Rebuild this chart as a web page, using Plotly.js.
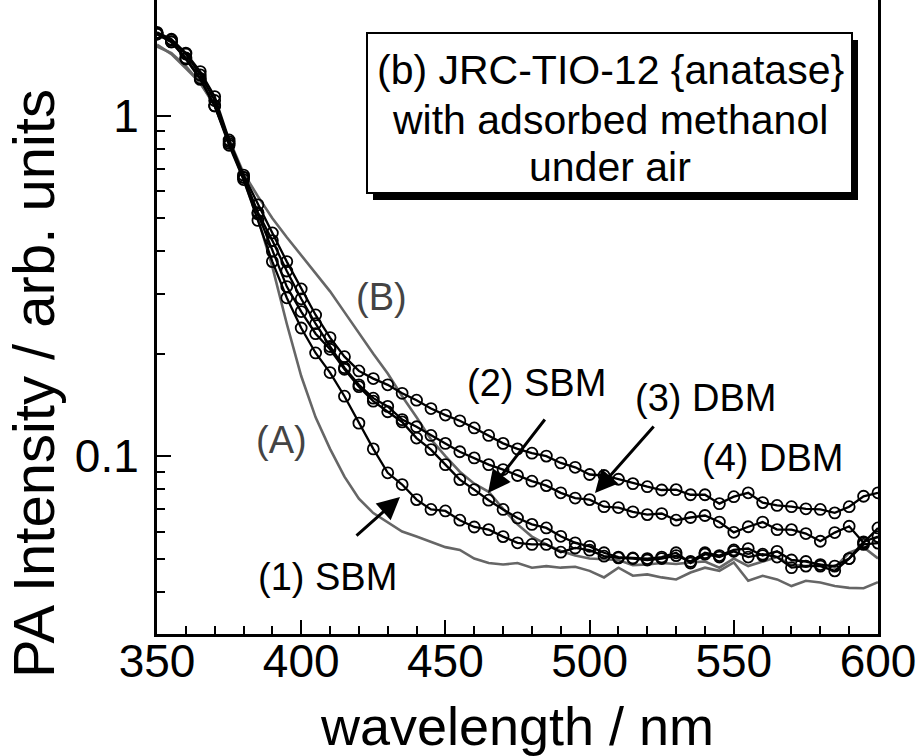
<!DOCTYPE html>
<html><head><meta charset="utf-8">
<script src="https://cdn.plot.ly/plotly-3.0.1.min.js"></script>
<style>html,body{margin:0;padding:0;background:#fff}</style>
</head><body><div id="chart" style="width:920px;height:756px"></div>
<script>
const wavelength = [350,355,360,365,370,375,380,385,390,395,400,405,410,415,420,425,430,435,440,445,450,455,460,465,470,475,480,485,490,495,500,505,510,515,520,525,530,535,540,545,550,555,560,565,570,575,580,585,590,595,600];

const sbm1 = [1.74,1.65,1.47,1.28,1.07,0.82,0.65,0.493,0.373,0.292,0.238,0.201,0.176,0.15,0.125,0.105,0.0893,0.0825,0.0745,0.0697,0.069,0.0648,0.0619,0.0608,0.058,0.0556,0.055,0.055,0.0522,0.0537,0.0529,0.0508,0.0502,0.05,0.0495,0.05,0.051,0.049,0.052,0.051,0.053,0.0535,0.051,0.0525,0.0495,0.049,0.048,0.0475,0.05,0.056,0.058];

const sbm2 = [1.74,1.65,1.48,1.29,1.07,0.83,0.66,0.515,0.40,0.315,0.266,0.229,0.206,0.18,0.16,0.145,0.135,0.126,0.113,0.1045,0.0944,0.0853,0.0797,0.0742,0.0697,0.0658,0.063,0.0615,0.0581,0.0556,0.0543,0.052,0.0505,0.0502,0.05,0.0505,0.052,0.0485,0.0515,0.0505,0.0525,0.0505,0.0515,0.0505,0.047,0.0475,0.0475,0.046,0.05,0.055,0.0555];

const dbm3 = [1.75,1.67,1.52,1.32,1.11,0.84,0.66,0.52,0.43,0.35,0.29,0.245,0.21,0.182,0.162,0.148,0.14,0.128,0.122,0.115,0.109,0.103,0.0988,0.0944,0.0913,0.0877,0.0844,0.0819,0.078,0.0753,0.0745,0.071,0.0706,0.0686,0.0673,0.0678,0.0648,0.066,0.0669,0.064,0.0597,0.062,0.064,0.0608,0.0608,0.0592,0.0562,0.0596,0.0622,0.0556,0.0615];

const dbm4 = [1.76,1.68,1.53,1.35,1.14,0.85,0.67,0.548,0.453,0.373,0.31,0.26,0.223,0.196,0.178,0.169,0.162,0.153,0.146,0.138,0.132,0.127,0.121,0.115,0.109,0.105,0.102,0.1,0.0955,0.0927,0.0883,0.0877,0.0855,0.083,0.0813,0.0795,0.0797,0.077,0.077,0.0725,0.076,0.078,0.073,0.0716,0.071,0.07,0.0697,0.0681,0.071,0.0762,0.078];

const curveA = [1.62,1.52,1.38,1.25,1.08,0.84,0.65,0.5,0.36,0.245,0.172,0.13,0.105,0.087,0.075,0.068,0.064,0.06,0.058,0.056,0.054,0.053,0.05,0.0485,0.048,0.0485,0.047,0.0475,0.047,0.0473,0.046,0.044,0.047,0.0445,0.0449,0.044,0.0434,0.0455,0.047,0.046,0.0487,0.043,0.0445,0.0434,0.0415,0.043,0.0425,0.0415,0.041,0.0409,0.0426];

const curveB = [1.6,1.53,1.4,1.25,1.07,0.85,0.68,0.58,0.5,0.44,0.39,0.345,0.305,0.265,0.23,0.2,0.175,0.15,0.13,0.112,0.1,0.09,0.083,0.0785,0.07,0.063,0.058,0.055,0.0526,0.051,0.05,0.0497,0.0495,0.0478,0.048,0.0485,0.0482,0.0487,0.049,0.047,0.05,0.0475,0.049,0.0505,0.048,0.0475,0.048,0.047,0.052,0.054,0.05];

const xTickVals = [350,400,450,500,550,600];
const yTickVals = [0.1, 1];
const yTickText = ['0.1', '1'];
const yMinorVals = [0.04,0.05,0.06,0.07,0.08,0.09,0.2,0.3,0.4,0.5,0.6,0.7,0.8,0.9];

const FONT = "'Liberation Sans', Arial, Helvetica, sans-serif";
const L = 157, R = 878, T = 0, B = 634;
const px = x => (x - L) / (R - L);
const py = y => (B - y) / (B - T);

const markerLine = (y, name) => ({
  x: wavelength, y: y, name: name, type: 'scatter', mode: 'lines+markers',
  line: {color: '#000', width: 2.3},
  marker: {symbol: 'circle-open', size: 11, color: '#000', line: {width: 1.8, color: '#000'}}
});

const traces = [
  {x: wavelength, y: curveA, name: '(A)', type: 'scatter', mode: 'lines', line: {color: '#666', width: 2.6}},
  {x: wavelength, y: curveB, name: '(B)', type: 'scatter', mode: 'lines', line: {color: '#666', width: 2.6}},
  markerLine(sbm1, '(1) SBM'),
  markerLine(sbm2, '(2) SBM'),
  markerLine(dbm3, '(3) DBM'),
  markerLine(dbm4, '(4) DBM')
];

const txt = (text, x, y, size, color) => ({
  text: text, xref: 'paper', yref: 'paper', x: px(x), y: py(y),
  xanchor: 'center', yanchor: 'middle', showarrow: false,
  font: {family: FONT, size: size, color: color || '#000'}
});
const arrow = (tx, ty, sx, sy) => ({
  text: '', xref: 'paper', yref: 'paper', x: px(tx), y: py(ty),
  ax: sx - tx, ay: sy - ty, showarrow: true, arrowhead: 2, arrowsize: 1.5,
  arrowwidth: 3, arrowcolor: '#000', standoff: 0, startstandoff: 0
});

const annotations = [
  txt('(A)', 281, 440, 38, '#444'),
  txt('(B)', 381, 297, 38, '#444'),
  txt('(1) SBM', 327, 577, 38),
  txt('(2) SBM', 536, 383, 38),
  txt('(3) DBM', 705, 398, 38),
  txt('(4) DBM', 772, 458, 38),
  arrow(400, 497, 355, 537),
  arrow(488, 493, 546, 418),
  arrow(595, 493, 655, 425),
  txt('(b) JRC-TIO-12 {anatase}', 610, 70, 41),
  txt('with adsorbed methanol', 610, 120, 41),
  txt('under air', 610, 167, 41),
  Object.assign(txt('PA Intensity / arb. units', 33, 384, 58), {textangle: -90})
];

const shapes = [
  {type: 'rect', xref: 'paper', yref: 'paper', x0: px(373), x1: px(858), y0: py(40), y1: py(200), fillcolor: '#000', line: {width: 0}, layer: 'above'},
  {type: 'rect', xref: 'paper', yref: 'paper', x0: px(367), x1: px(852), y0: py(33), y1: py(193), fillcolor: '#fff', line: {width: 2, color: '#000'}, layer: 'above'}
];

const layout = {
  width: 920, height: 756,
  margin: {l: L, r: 920 - R, t: T, b: 756 - B},
  paper_bgcolor: '#fff', plot_bgcolor: '#fff',
  showlegend: false,
  font: {family: FONT, color: '#000'},
  xaxis: {
    range: [350, 600], tickmode: 'array', tickvals: xTickVals,
    ticks: 'inside', ticklen: 14, tickwidth: 2, tickcolor: '#000',
    minor: {ticks: 'inside', ticklen: 8, tickwidth: 2, tickcolor: '#000', dtick: 10, tick0: 350},
    showline: true, linewidth: 3, linecolor: '#000', mirror: false,
    showgrid: false, zeroline: false,
    tickfont: {family: FONT, size: 46, color: '#000'},
    ticklabelstandoff: -15,
    title: {text: 'wavelength / nm', font: {family: FONT, size: 54, color: '#000'}, standoff: 22}
  },
  yaxis: {
    type: 'log', range: [Math.log10(0.03), 0.3407],
    tickmode: 'array', tickvals: yTickVals, ticktext: yTickText,
    ticks: 'inside', ticklen: 14, tickwidth: 2, tickcolor: '#000',
    minor: {ticks: 'inside', ticklen: 8, tickwidth: 2, tickcolor: '#000', tickmode: 'array', tickvals: yMinorVals},
    showline: true, linewidth: 3, linecolor: '#000', mirror: true,
    showgrid: false, zeroline: false,
    tickfont: {family: FONT, size: 46, color: '#000'},
    ticklabelstandoff: 6
  },
  annotations: annotations,
  shapes: shapes
};

Plotly.newPlot('chart', traces, layout, {displayModeBar: false, staticPlot: true});
</script></body></html>
